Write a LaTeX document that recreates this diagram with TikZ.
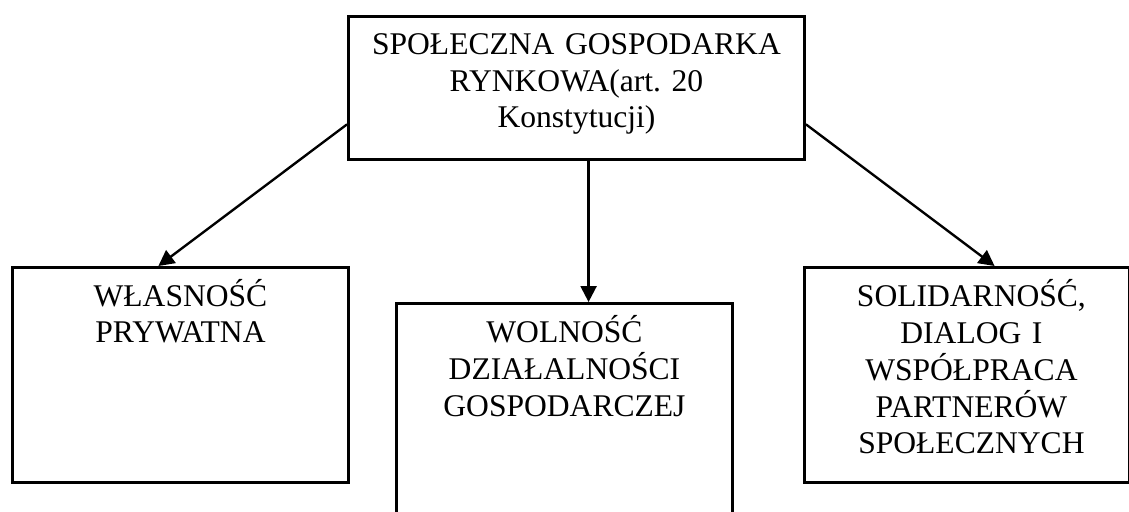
\documentclass[tikz,border=0pt]{standalone}
\usepackage{fontspec}
\setmainfont{Liberation Serif}
\usetikzlibrary{arrows.meta}
\usetikzlibrary{calc}

\tikzset{
	box/.style={draw, line width=1.1pt, rectangle, anchor=north west, inner sep=0pt},
	txt/.style={font=\fontsize{12}{14}\selectfont\frenchspacing, align=center, anchor=base, inner sep=0pt},
	link/.style={line width=0.9pt, -{Triangle[width=6pt,length=6pt]}}
}

\begin{document}
\begin{tikzpicture}[x=0.38pt, y=-0.38pt]
		\clip (0,0) rectangle (1129,511);
		
		\node[box, minimum width=173.3pt, minimum height=54.3pt] (spoleczna) at (347,15) {};
		\node[box, minimum width=127.7pt, minimum height=81.7pt] (wlasnosc) at (11,266) {};
		\node[box, minimum width=127.7pt, minimum height=86.6pt] (wolnosc) at (395,302) {};
		\node[box, minimum width=123.5pt, minimum height=81.7pt] (solidarnosc) at (803,266) {};
		
		\node[txt, text width=170pt] (spoleczna text) at ([yshift=-14.9pt]spoleczna.north) {SPOŁECZNA GOSPODARKA\\RYNKOWA(art. 20\\Konstytucji)};
		\node[txt, text width=120pt] (wlasnosc text) at ([yshift=-15.2pt]wlasnosc.north) {WŁASNOŚĆ\\PRYWATNA};
		\node[txt, text width=120pt] (wolnosc text) at ([yshift=-15.4pt]wolnosc.north) {WOLNOŚĆ\\DZIAŁALNOŚCI\\GOSPODARCZEJ};
		\node[txt, text width=118pt] (solidarnosc text) at ([xshift=1.7pt, yshift=-15.4pt]solidarnosc.north) {SOLIDARNOŚĆ,\\DIALOG I\\WSPÓŁPRACA\\PARTNERÓW\\SPOŁECZNYCH};
		
		\draw[link] ($(spoleczna.south west)!0.25!(spoleczna.north west)$) -- ([xshift=-8.4pt]wlasnosc.north);
		\draw[link] ([xshift=4.6pt]spoleczna.south) -- ([xshift=4.6pt]spoleczna.south |- wolnosc.north);
		\draw[link] ($(spoleczna.south east)!0.25!(spoleczna.north east)$) -- ([xshift=10.5pt]solidarnosc.north);
\end{tikzpicture}
\end{document}
